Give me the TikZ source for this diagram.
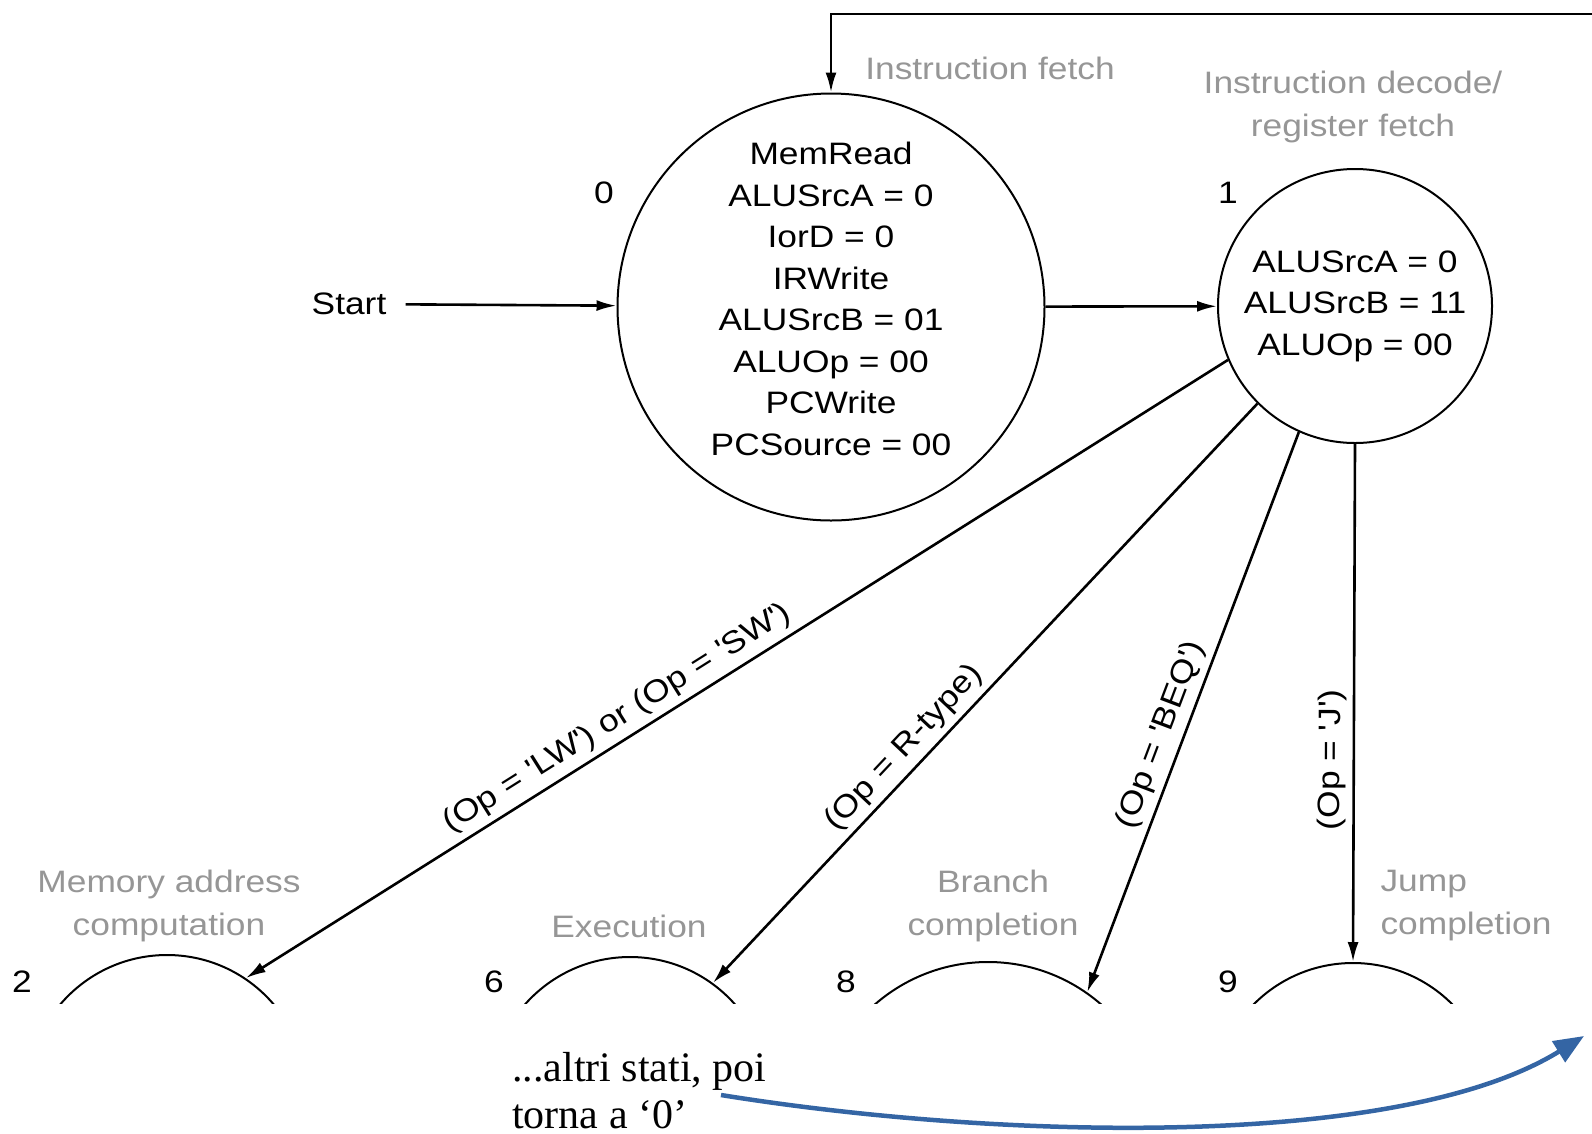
\documentclass[tikz,border=0pt]{standalone}
\usepackage{fontspec}
\setmainfont{Liberation Serif}
\newfontfamily\figfont[FakeStretch=1.14]{Liberation Sans}
\usetikzlibrary{arrows.meta}
\definecolor{phasegray}{RGB}{150,150,150}
\definecolor{retblue}{RGB}{52,101,164}

\begin{document}
\begin{tikzpicture}[x=1pt,y=-1pt,>={Latex[length=20pt,width=11pt]},line width=2.6pt,
state/.style={circle, draw, line width=2pt, inner sep=0pt, align=center, font=\figfont\fontsize{31}{41.5}\selectfont},
num/.style={font=\figfont\fontsize{31}{41.5}\selectfont},
phase/.style={text=phasegray, align=center, font=\figfont\fontsize{31}{43}\selectfont},
cond/.style={sloped, above, inner sep=6pt, font=\figfont\fontsize{31}{41.5}\selectfont},
note/.style={align=left, inner sep=0pt, font=\fontsize{42}{47}\selectfont},
ret/.style={draw=retblue, line width=4.5pt, -{Triangle[length=30pt,width=24pt]}}]

\useasboundingbox (0,0) rectangle (1592,1133);

\draw (831,307) node[state, minimum size=427pt, text depth=16pt] (S0) {MemRead\\ALUSrcA = 0\\IorD = 0\\IRWrite\\ALUSrcB = 01\\ALUOp = 00\\PCWrite\\PCSource = 00};
\draw (1355,306) node[state, minimum size=274pt] (S1) {ALUSrcA = 0\\ALUSrcB = 11\\ALUOp = 00};

% bottom states, cut off
\begin{scope}
\clip (0,0) rectangle (1592,1003);
\draw (167,1095) node[state, minimum size=280pt] (S2) {};
\draw (630,1097) node[state, minimum size=280pt] (S6) {};
\draw (988,1134) node[state, minimum size=344pt] (S8) {};
\draw (1353,1103) node[state, minimum size=280pt] (S9) {};
\end{scope}

\draw (604,193) node[num] (n0) {0};
\draw (1228,193) node[num] (n1) {1};
\draw (22,982) node[num] (n2) {2};
\draw (494,982) node[num] (n6) {6};
\draw (846,982) node[num] (n8) {8};
\draw (1228,982) node[num] (n9) {9};
\draw (349,304) node[num, inner xsep=18pt] (start) {Start};

\draw (990,68) node[phase] (fetch) {Instruction fetch};
\draw (1353,107) node[phase] (decode) {Instruction decode/\\register fetch};
\draw (169,906) node[phase] (memaddr) {Memory address\\computation};
\draw (629,926) node[phase] (exec) {Execution};
\draw (993,906) node[phase] (branch) {Branch\\completion};
\draw (1466,906) node[phase, align=left] (jump) {Jump\\completion};

\draw (511,1051) node[note, anchor=north west] (back) {...altri stati, poi\\torna a `0'};
\coordinate (loop) at (1592,14);
\coordinate (retfrom) at (721,1095);
\coordinate (retto) at (1584,1036);

\draw[->] (start)--(S0);
\draw[->] (S0)--(S1);
\draw[->] (loop) -| (S0);
\draw[->] (S1.203.5)-- node[cond, pos=0.61] {(Op = \textquotesingle LW\textquotesingle) or (Op = \textquotesingle SW\textquotesingle)} (S2.56.8);
\draw[->] (S1.225.3)-- node[cond, pos=0.62] {(Op = R-type)} (S6.54.9);
\draw[->] (S1.246.7)-- node[cond, pos=0.555] {(Op = \textquotesingle BEQ\textquotesingle)} (S8.55.4);
\draw[->] (S1.south)-- node[cond, pos=0.61] {(Op = \textquotesingle J\textquotesingle)} (S9.north);
\draw[ret] (retfrom) .. controls (1000,1140) and (1400,1150) .. (retto);

\end{tikzpicture}
\end{document}
